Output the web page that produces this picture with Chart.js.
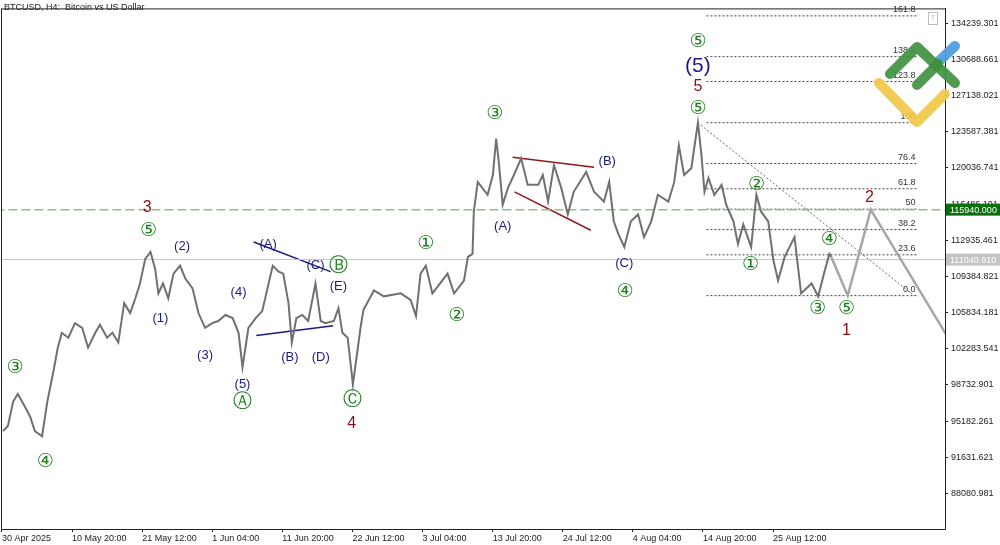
<!DOCTYPE html>
<html>
<head>
<meta charset="utf-8">
<script src="https://cdn.jsdelivr.net/npm/chart.js@4.4.1/dist/chart.umd.min.js"></script>
<style>
  body { margin: 0; background: #fff; }
  canvas { display: block; }
</style>
</head>
<body>
<canvas id="chart" width="1000" height="545"></canvas>
<script>
// days since 30 Apr 2025 00:00 and price
const priceDays = [0.15, 0.9, 1.7, 2.4, 3.5, 4.3, 5.0, 6.1, 6.9, 7.8, 8.5, 9.1, 10.1, 11.1, 12.2, 13.1, 14.2, 14.9, 16.0, 16.8,
  17.7, 18.6, 19.5, 20.3, 21.0, 21.8, 22.6, 23.3, 23.8, 24.5, 25.3, 26.1, 27.1, 27.9, 29.0, 29.9, 30.9, 32.0, 32.9, 34.0,
  35.1, 36.0, 36.6, 37.5, 38.6, 39.6, 40.4, 41.2, 42.1, 42.8, 43.6, 44.1, 44.8, 45.7, 46.6, 47.7, 48.5, 49.2, 50.5, 51.2,
  51.8, 52.6, 53.4, 54.6, 55.0, 56.6, 58.1, 60.7, 62.2, 63.0, 63.7, 64.5, 65.5, 67.8, 68.8, 70.3, 70.9, 71.6, 71.8, 72.4,
  73.9, 74.7, 75.2, 75.6, 76.2, 77.0, 77.9, 79.0, 80.0, 81.6, 82.3, 83.1, 84.0, 85.1, 86.1, 87.0, 88.9, 90.1, 91.6, 92.4,
  93.1, 93.8, 94.7, 95.7, 96.8, 97.7, 98.8, 99.8, 101.4, 102.3, 103.0, 103.8, 104.9, 105.9, 106.4, 106.9, 107.5, 108.4, 109.5, 110.2,
  111.3, 112.0, 112.8, 114.0, 114.8, 115.5, 116.6, 117.4, 118.1, 119.1, 120.6, 121.6, 123.2, 124.2, 125.2, 125.9, 126.2];
const priceValues = [94200, 94700, 97100, 97850, 96600, 95600, 94200, 93700, 97100, 99980, 102400, 103850, 103370, 104800, 104340, 102400, 103850, 104630, 103370, 103850,
  102900, 106760, 105790, 107240, 108690, 111110, 111790, 110140, 107720, 108690, 107240, 109660, 110430, 109180, 108210, 105790, 104340, 104800, 105010, 105600,
  105300, 103850, 100470, 104340, 105300, 105980, 108210, 110430, 109850, 109660, 106760, 102900, 105300, 105600, 105010, 108690, 105010, 104800, 105010, 106270,
  103850, 103370, 98800, 104530, 106080, 108010, 107430, 107720, 107050, 105500, 109660, 110430, 107720, 109660, 107720, 108980, 111300, 111590, 115760, 118660,
  117400, 119340, 122920, 120590, 116430, 118080, 119340, 120980, 118370, 118370, 119340, 116720, 120300, 118080, 115470, 117690, 119630, 117690, 116720, 118660,
  114790, 113530, 112270, 114790, 115470, 113240, 114790, 117400, 116720, 118660, 122240, 119340, 120010, 124470, 121560, 117690, 119050, 117400, 118370, 116430,
  114790, 112560, 114500, 112270, 117400, 115760, 114790, 110920, 108980, 111300, 113240, 107720, 108690, 107430, 109950, 111590, 111300];

// projected path 4 -> 5 -> 2 -> down
const forecastDays = [126.2, 128.7, 132.2, 144.5];
const forecastValues = [111300, 107500, 115940, 102800];

const xTickLabels = ["30 Apr 2025", "10 May 20:00", "21 May 12:00", "1 Jun 04:00", "11 Jun 20:00", "22 Jun 12:00",
  "3 Jul 04:00", "13 Jul 20:00", "24 Jul 12:00", "4 Aug 04:00", "14 Aug 20:00", "25 Aug 12:00"];
const yTickValues = [134239.301, 130688.661, 127138.021, 123587.381, 120036.741, 116486.101, 112935.461,
  109384.821, 105834.181, 102283.541, 98732.901, 95182.261, 91631.621, 88080.981];

const fibLevels = ["0.0", "23.6", "38.2", "50", "61.8", "76.4", "100", "123.8", "138.2", "161.8"];
const fibLow = 107500, fibHigh = 124470;

const levelGreen = 115940.0;
const levelGrey = 111040.91;

// wave labels: [day, price, text, kind]
const waveLabels = [
  [2.0, 100370, "③", "g"], [6.6, 91176, "④", "g"], [22.3, 113820, "⑤", "g"], [22.1, 116140, "3", "r"],
  [27.4, 112370, "(2)", "b"], [24.1, 105300, "(1)", "b"], [30.9, 101630, "(3)", "b"], [36.0, 107820, "(4)", "b"],
  [36.6, 98820, "(5)", "b"], [36.6, 97080, "Ⓐ", "g"], [40.5, 112560, "(A)", "b"], [47.7, 110430, "(C)", "b"],
  [51.2, 110430, "Ⓑ", "g"], [51.2, 108400, "(E)", "b"], [43.8, 101430, "(B)", "b"], [48.5, 101430, "(D)", "b"],
  [53.4, 97270, "Ⓒ", "g"], [53.2, 94950, "4", "r"], [64.5, 112560, "①", "g"], [69.2, 105500, "②", "g"],
  [75.0, 125330, "③", "g"], [76.2, 114300, "(A)", "b"], [92.1, 120690, "(B)", "b"], [94.7, 110630, "(C)", "b"],
  [94.8, 107820, "④", "g"], [105.9, 132400, "⑤", "g"], [105.9, 129980, "(5)", "B"], [105.9, 128050, "5", "r"],
  [105.9, 125820, "⑤", "g"], [114.8, 118370, "②", "g"], [113.9, 110530, "①", "g"], [125.9, 112950, "④", "g"],
  [124.1, 106170, "③", "g"], [128.5, 106170, "⑤", "g"], [128.5, 104050, "1", "r"], [132.0, 117110, "2", "r"]
];

const seg = (a, b, c, d) => [{ x: a, y: b }, { x: c, y: d }];

const datasets = [
  { data: priceDays.map((d, i) => ({ x: d, y: priceValues[i] })), borderColor: "#707070", borderWidth: 2 },
  { data: forecastDays.map((d, i) => ({ x: d, y: forecastValues[i] })), borderColor: "#a6a6a6", borderWidth: 2.5 },
  { data: seg(-1, levelGreen, 150, levelGreen), borderColor: "#8fbf8f", borderWidth: 1.5, borderDash: [9, 4] },
  { data: seg(-1, levelGrey, 150, levelGrey), borderColor: "#c8c8c8", borderWidth: 1 },
  { data: seg(105.9, fibHigh, 138.8, fibLow), borderColor: "#444", borderWidth: 0.8, borderDash: [2, 2] },
  { data: seg(38.3, 112760, 50.0, 109860), borderColor: "#1a1a80", borderWidth: 1.5 },
  { data: seg(38.7, 103580, 50.4, 104550), borderColor: "#1a1a80", borderWidth: 1.5 },
  { data: seg(77.7, 121080, 90.1, 120110), borderColor: "#8b1a1a", borderWidth: 1.5 },
  { data: seg(78.0, 117690, 89.6, 113920), borderColor: "#8b1a1a", borderWidth: 1.5 },
];
fibLevels.forEach((lv) => {
  const p = fibLow + (fibHigh - fibLow) * parseFloat(lv) / 100;
  datasets.push({ data: seg(107.2, p, 139.2, p), borderColor: "#444", borderWidth: 1, borderDash: [2, 2], fibLabel: lv });
});

const overlay = {
  id: "overlay",
  afterDatasetsDraw(chart) {
    const { ctx, scales: { x, y }, chartArea } = chart;
    ctx.save();
    // fib level labels
    ctx.font = "9px 'Liberation Sans'";
    ctx.fillStyle = "#333";
    ctx.textAlign = "right";
    ctx.textBaseline = "bottom";
    datasets.forEach((ds) => {
      if (!ds.fibLabel) return;
      ctx.fillText(ds.fibLabel, x.getPixelForValue(139.0), y.getPixelForValue(ds.data[0].y) - 2);
    });
    // wave labels
    ctx.textAlign = "center";
    ctx.textBaseline = "middle";
    const styles = {
      g: ["#1f7f1f", "19px 'DejaVu Sans'"],
      b: ["#1a1a80", "13px 'Liberation Sans'"],
      B: ["#1a1a80", "21px 'Liberation Sans'"],
      r: ["#8b1010", "16px 'Liberation Sans'"],
    };
    waveLabels.forEach(([d, p, t, k]) => {
      ctx.fillStyle = styles[k][0];
      ctx.font = styles[k][1];
      ctx.fillText(t, x.getPixelForValue(d), y.getPixelForValue(p));
    });
    // frame
    ctx.strokeStyle = "#222";
    ctx.lineWidth = 1;
    ctx.strokeRect(chartArea.left + 0.5, chartArea.top + 0.5, chartArea.width, chartArea.height);
    // title
    ctx.fillStyle = "#222";
    ctx.font = "9px 'Liberation Sans'";
    ctx.textAlign = "left";
    ctx.textBaseline = "top";
    ctx.fillText("BTCUSD, H4:  Bitcoin vs US Dollar", 4, 3);
    // small box top right
    ctx.strokeStyle = "#bbb";
    ctx.strokeRect(928.5, 12.5, 9, 12);
    ctx.fillStyle = "#bbb";
    ctx.textAlign = "center";
    ctx.font = "8px 'Liberation Sans'";
    ctx.fillText("T", 933, 14);
    // price boxes on axis
    [[levelGreen, "#0a6e0a", "115940.000"], [levelGrey, "#c4c4c4", "111040.910"]].forEach(([p, c, t]) => {
      const py = y.getPixelForValue(p);
      ctx.fillStyle = c;
      ctx.fillRect(chartArea.right + 1, py - 6, 999 - chartArea.right, 12);
      ctx.fillStyle = "#fff";
      ctx.textAlign = "left";
      ctx.textBaseline = "middle";
      ctx.font = "9px 'Liberation Sans'";
      ctx.fillText(t, chartArea.right + 5, py + 0.5);
    });
    // watermark logo
    ctx.lineCap = "round";
    ctx.lineJoin = "round";
    ctx.lineWidth = 10;
    ctx.globalAlpha = 0.92;
    ctx.strokeStyle = "#4a9be0";
    ctx.beginPath(); ctx.moveTo(955, 46); ctx.lineTo(938, 62); ctx.stroke();
    ctx.strokeStyle = "#f0c94a";
    ctx.beginPath(); ctx.moveTo(879, 83); ctx.lineTo(917, 122); ctx.lineTo(945, 94); ctx.stroke();
    ctx.strokeStyle = "#3f9140";
    ctx.beginPath(); ctx.moveTo(890, 74); ctx.lineTo(917, 47); ctx.lineTo(955, 83); ctx.stroke();
    ctx.beginPath(); ctx.moveTo(917, 85); ctx.lineTo(938, 64); ctx.stroke();
    ctx.restore();
  },
};

new Chart(document.getElementById("chart"), {
  type: "line",
  data: { datasets },
  options: {
    responsive: false,
    animation: false,
    devicePixelRatio: 1,
    layout: { padding: { left: 1, top: 1, right: 0, bottom: 0 } },
    elements: { point: { radius: 0 }, line: { tension: 0, fill: false } },
    scales: {
      x: {
        type: "linear",
        min: -0.15,
        max: 143.5,
        afterBuildTicks: (s) => { s.ticks = xTickLabels.map((l, i) => ({ value: i * 64 / 6 })); },
        afterFit: (s) => { s.height = 16; },
        ticks: {
          autoSkip: false, maxRotation: 0, align: "start", padding: 1,
          color: "#222", font: { family: "Liberation Sans", size: 9 },
          callback: (v, i) => xTickLabels[i],
        },
        grid: { drawOnChartArea: false, tickLength: 3, color: "#222" },
        border: { color: "#222" },
      },
      y: {
        position: "right",
        min: 84595,
        max: 135690,
        afterBuildTicks: (s) => { s.ticks = yTickValues.map((v) => ({ value: v })); },
        afterFit: (s) => { s.width = 55; },
        ticks: {
          autoSkip: false, padding: 3,
          color: "#222", font: { family: "Liberation Sans", size: 9 },
          callback: (v) => v.toFixed(3),
        },
        grid: { drawOnChartArea: false, tickLength: 3, color: "#222" },
        border: { color: "#222" },
      },
    },
    plugins: { legend: { display: false }, tooltip: { enabled: false } },
  },
  plugins: [overlay],
});
</script>
</body>
</html>
